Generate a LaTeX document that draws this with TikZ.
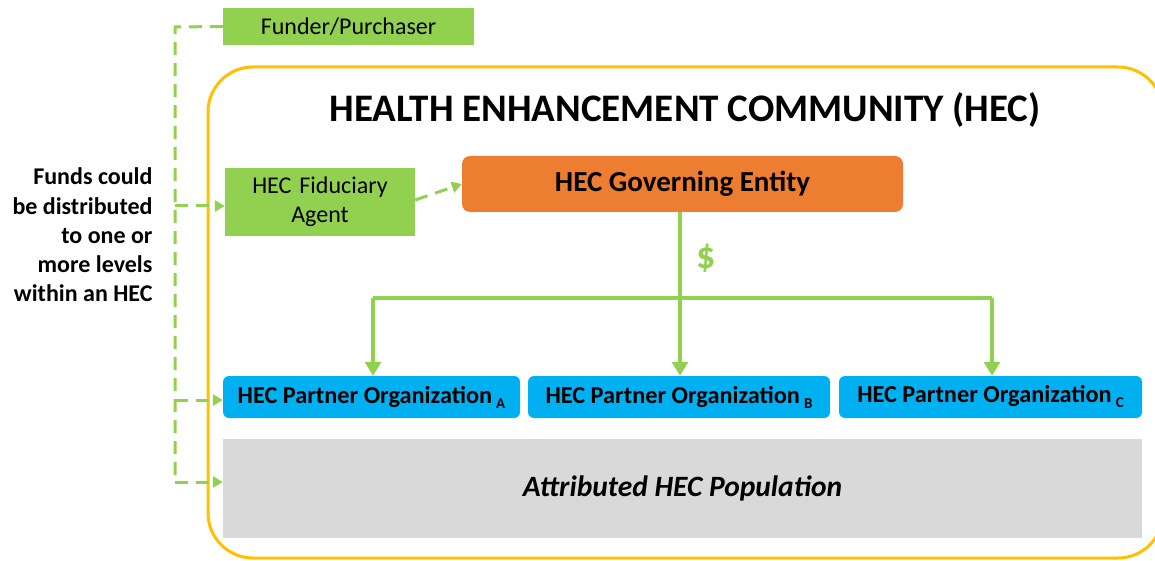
\documentclass[tikz,border=0pt]{standalone}
\usepackage{fontspec}
\setmainfont{Carlito}
\usetikzlibrary{arrows.meta}
\definecolor{hgreen}{HTML}{92D050}
\definecolor{horange}{HTML}{ED7D31}
\definecolor{hblue}{HTML}{00B0F0}
\definecolor{hgray}{HTML}{D9D9D9}
\definecolor{hyellow}{HTML}{FFC000}
\tikzset{
  gbox/.style={fill=hgreen, inner sep=0pt, font=\fontsize{24}{29}\selectfont, align=center},
  pbox/.style={fill=hblue, rounded corners=6pt, inner sep=0pt, font=\bfseries\fontsize{24.3}{28}\selectfont},
  flow/.style={draw=hgreen, line width=4.5pt, -{Triangle[length=14pt,width=16pt]}},
  dline/.style={draw=hgreen, line width=3pt, dash pattern=on 13pt off 8pt},
  dflow/.style={dline, -{Triangle[length=10pt,width=11pt]}},
}
\newcommand{\subl}[1]{\,\raisebox{-5pt}{\fontsize{15}{16}\selectfont #1}}
\begin{document}
\begin{tikzpicture}[x=1pt,y=-1pt]
\useasboundingbox (0,0) rectangle (1155,561);
% yellow frame
\draw[hyellow, line width=3pt, rounded corners=45pt] (208,67) rectangle (1163,558);
% Funder
\node[gbox, minimum width=251pt, minimum height=37pt] (fund) at (348.5,26.5) {Funder/Purchaser};
% title
\node[font=\bfseries\fontsize{39}{44}\selectfont] (title) at (685,110) {HEALTH ENHANCEMENT COMMUNITY (HEC)};
% fiduciary
\node[gbox, minimum width=190pt, minimum height=68pt, text width=180pt, font=\fontsize{24}{29}\selectfont] (fid) at (320,202) {HEC Fiduciary\\Agent};
% governing
\node[fill=horange, rounded corners=8pt, minimum width=441pt, minimum height=56pt, inner sep=0pt, font=\bfseries\fontsize{29}{33}\selectfont] (gov) at (682.5,184) {HEC Governing Entity};
% partners
\node[pbox, minimum width=297pt, minimum height=42pt] (pa) at (371.5,397) {HEC Partner Organization\subl{A}};
\node[pbox, minimum width=302pt, minimum height=42pt] (pb) at (679,397) {HEC Partner Organization\subl{B}};
\node[pbox, minimum width=303pt, minimum height=42pt] (pc) at (990.5,397) {HEC Partner Organization\subl{C}};
% population
\node[fill=hgray, minimum width=919pt, minimum height=99pt, inner sep=0pt, font=\bfseries\itshape\fontsize{29.5}{34}\selectfont] (pop) at (682.5,488.5) {Attributed HEC Population};
% money flow
\coordinate (jn) at (680,298);
\coordinate (jl) at (373,298);
\coordinate (jr) at (992,298);
\draw[hgreen, line width=4.5pt] (gov.south -| jn) -- (jn);
\draw[hgreen, line width=4.5pt] (jl) -- (jr);
\draw[flow] (jl) -- (jl |- pa.north);
\draw[flow] (jn) -- (jn |- pb.north);
\draw[flow] (jr) -- (jr |- pc.north);
\node[text=hgreen, font=\bfseries\fontsize{38}{40}\selectfont] (dollar) at (706,258) {\$};
% dashed funds
\coordinate (vt) at (175,27);
\coordinate (vb) at (175,482);
\draw[dline] (fund.west) -- (vt) -- (vb);
\draw[dflow] (175,206) -- (fid.west |- 0,206);
\draw[dflow] (175,400) -- (pa.west |- 0,400);
\draw[dflow] (vb) -- (pop.west |- vb);
\draw[dflow] (fid.east |- 0,200) -- (gov.west);
% left text
\node[align=right, anchor=east, font=\bfseries\fontsize{24}{29.3}\selectfont] (note) at (156,235) {Funds could\\be distributed\\to one or\\more levels\\within an HEC};
\end{tikzpicture}
\end{document}
